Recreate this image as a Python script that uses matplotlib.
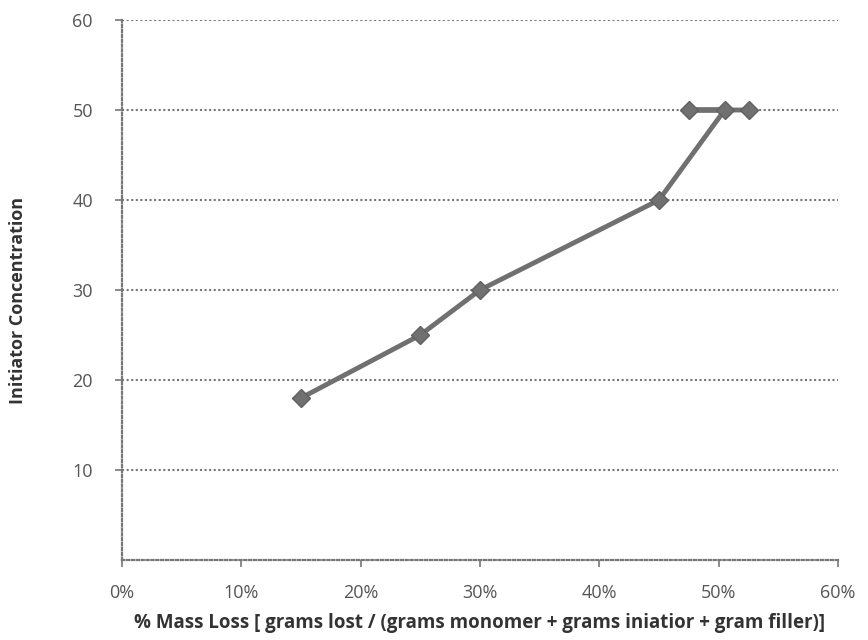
import matplotlib
matplotlib.use("Agg")
import matplotlib.pyplot as plt
from matplotlib.ticker import FuncFormatter

mass_loss = [15, 25, 30, 45, 50.5, 47.5, 52.5]
initiator = [18, 25, 30, 40, 50, 50, 50]
x_ticks = [0, 10, 20, 30, 40, 50, 60]
y_ticks = [10, 20, 30, 40, 50, 60]

plt.rcParams['font.family'] = ['Open Sans', 'DejaVu Sans']

fig = plt.figure(figsize=(8.68, 6.4), dpi=100)
ax = fig.add_axes([122/868, 80/640, 716/868, 540/640])

ax.plot(mass_loss, initiator, color='#707070', linewidth=3.5, marker='D',
        markersize=9, markerfacecolor='#707070', markeredgecolor='#606060', zorder=3)

ax.set_xlim(0, 60)
ax.set_ylim(0, 60)
ax.set_xticks(x_ticks)
ax.set_yticks(y_ticks)
ax.xaxis.set_major_formatter(FuncFormatter(lambda v, p: f"{int(v)}%"))

ax.yaxis.grid(True, linestyle=(0, (1, 1.2)), color='#777777', linewidth=1.5)
ax.set_axisbelow(True)
for s in ['top', 'right']:
    ax.spines[s].set_visible(False)
for s in ['left', 'bottom']:
    ax.spines[s].set_linestyle((0, (1, 1.2)))
    ax.spines[s].set_color('#777777')
    ax.spines[s].set_linewidth(1.6)

ax.tick_params(axis='both', colors='#777777', length=5, width=1.2, labelcolor='#555555',
               labelsize=13)
ax.tick_params(axis='y', pad=16)
ax.tick_params(axis='x', pad=12)

ax.set_xlabel("% Mass Loss [ grams lost / (grams monomer + grams iniatior + gram filler)]",
              fontsize=13.5, fontweight='bold', color='#333333', labelpad=8)
ax.set_ylabel("Initiator Concentration", fontsize=13, fontweight='bold', color='#333333')
ax.yaxis.set_label_coords(-0.133, 0.48)

fig.savefig("out.png", dpi=100)
